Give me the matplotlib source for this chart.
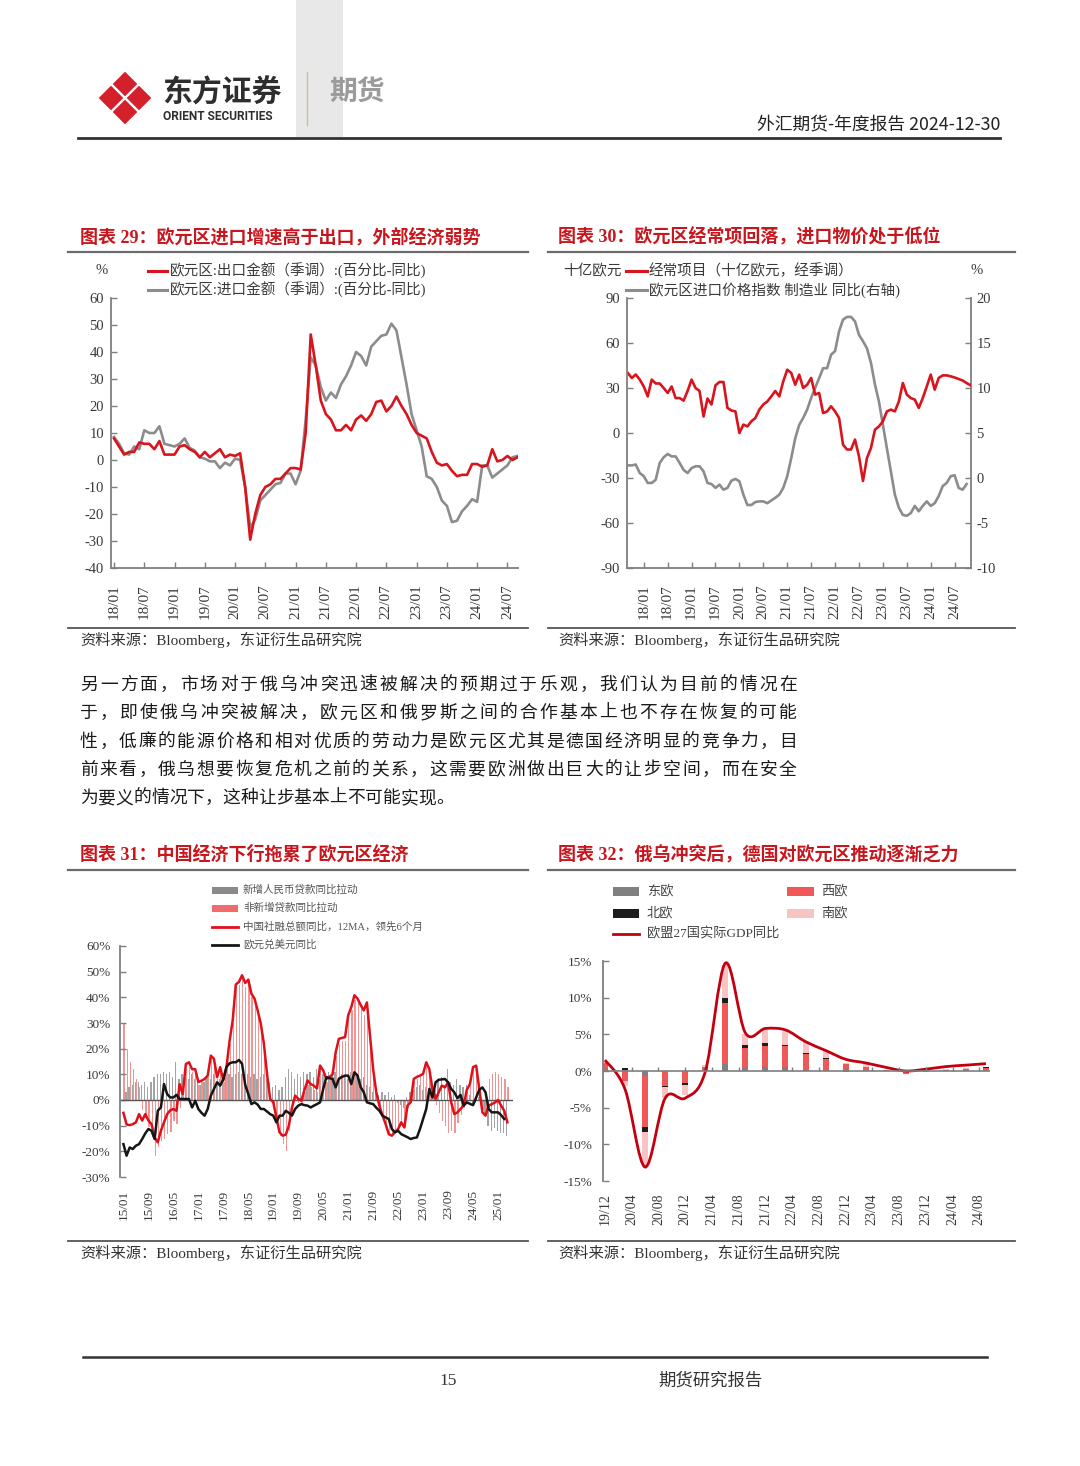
import numpy as np
import matplotlib
matplotlib.use('agg')
import matplotlib.pyplot as plt
from matplotlib.lines import Line2D
from matplotlib.patches import Polygon, Rectangle, PathPatch
from matplotlib.path import Path

W, H = 1080, 1466
SERIF = ['Liberation Serif', 'Noto Sans CJK SC']
SANS = ['Noto Sans CJK SC', 'DejaVu Sans']
plt.rcParams['font.family'] = SERIF
plt.rcParams['axes.unicode_minus'] = False

RED = '#d9141c'
GREY = '#8c8c8c'
AXC = '#7f7f7f'
TXT = '#3a3a3a'
TITLE_RED = '#c8161e'

# ---------------- chart 29: euro area exports / imports yoy, monthly 2018/01 - 2024/09
xt29 = ['18/01', '18/07', '19/01', '19/07', '20/01', '20/07', '21/01', '21/07',
        '22/01', '22/07', '23/01', '23/07', '24/01', '24/07']
exp29 = [8, 5, 2, 3, 3, 6.5, 6, 6, 4, 7, 2, 2, 2, 5, 5.5, 4, 3, 1, 3, 1,
         2.5, 4, 1, 2, 1.5, 2.5, -10, -29.5, -20, -13, -10, -9, -7, -7, -5, -3, -3, -3.5, 10, 46.5,
         35, 22, 17, 15, 11, 11, 13, 11, 15, 16.5, 14.5, 17, 21.5, 22, 18, 20, 23.5, 20, 17, 13,
         10, 9, 8, 3, -1, -2, -1.5, -4, -6, -5.5, -5.5, -1.5, -1.5, -2.5, -2, 4, -0.5, 0, 1.5, 0,
         1]
imp29 = [8.5, 6, 2.5, 2, 5, 4, 11, 10, 10, 12.5, 6, 5.5, 5, 6, 8, 4.5, 3.5, 1, 0.5, -0.5,
         -0.5, -3, -1, -2, 0.5, 0, -10, -25, -22, -15, -13, -11, -9, -8.5, -5, -5, -9, -4, 15, 38,
         35, 27, 22, 25, 23, 28, 31, 35, 40, 38.5, 35, 42, 44, 46, 46.5, 50.5, 48, 38, 28, 17,
         11, 5, -6, -7, -10, -15, -17, -23, -22.5, -19, -17, -14.5, -15.5, -2, -2, -6.5, -5, -3.5, -2, 1,
         1.5]

# ---------------- chart 30: current account (left) and import price index yoy (right), 2017/09 - 2024/11
xt30 = xt29
cur30 = [40, 36.7, 39, 35.6, 31, 24.4, 35.6, 33, 33, 30,
         26.7, 31, 23.3, 23.3, 21.6, 28, 35.6, 30, 28, 11,
         23, 19, 31.8, 34, 34, 16.7, 15, 14.4, 0, 5.6,
         4.4, 7.8, 10, 15.6, 19, 21, 24.4, 28, 24.4, 34.4,
         42.2, 40, 32.2, 38.9, 30, 32.2, 36.7, 25.6, 26.7, 13.3,
         14.4, 17.8, 14.4, 10, -7.8, -11, -11, -4.4, -15.6, -32,
         -16.7, -10, 2.2, 4.4, 7.8, 14.4, 15.6, 14.4, 21, 33.3,
         25.6, 23.3, 22.2, 16.7, 23.3, 31, 38.9, 28.9, 36.7, 38.4,
         38.4, 37.8, 37, 36, 35, 33.3, 31.8]
ipi30 = [1.4, 1.4, 1.5, 0.55, 0.2, -0.55, -0.55, -0.2, 1.67, 2.3,
         2.67, 2.4, 2.4, 1.67, 0.9, 0.55, 1.1, 1.3, 1.3, 0.74,
         -0.55, -0.67, -1.1, -0.74, -1.3, -1.1, -0.3, -0.1, -0.37, -1.85,
         -3.0, -3.0, -2.67, -2.6, -2.6, -2.8, -2.5, -2.2, -1.85, -1.1,
         0.2, 2.2, 4.4, 5.9, 6.67, 7.6, 8.9, 10, 11.1, 12.2,
         12.2, 13.7, 14.1, 16.3, 17.6, 17.9, 17.9, 17.4, 15.9, 15.2,
         14.4, 12.8, 10.4, 8.5, 5.9, 3.3, 0.74, -1.85, -3.3, -4.1,
         -4.2, -3.9, -3.1, -3.7, -3.1, -2.6, -3.1, -2.8, -2.0, -0.9,
         -0.55, 0.2, 0.3, -1.1, -1.3, -0.67]

# ---------------- chart 31: China TSF vs EURUSD, monthly 2015/01 -
xt31 = ['15/01', '15/09', '16/05', '17/01', '17/09', '18/05', '19/01', '19/09',
        '20/05', '21/01', '21/09', '22/05', '23/01', '23/09', '24/05', '25/01']
sf31 = [-5.0, -9.5, -9.8, -9.4, -8.7, -5.5, -8.0, -5.5, -8.0, -9.4,
        -14.6, -16.5, -12.0, -8.7, -5.5, -4.0, -3.5, -4.2, 6.2, 2.3,
        14.0, 14.7, 12.0, 12.0, 7.0, 7.5, 8.2, 9.5, 17.3, 16.0,
        8.9, 12.8, 7.6, 12.8, 23.0, 31.0, 45.0, 46.0, 48.6, 45.6,
        46.9, 41.4, 39.5, 34.9, 29.7, 21.9, 10.2, 0.4, -0.9, -6.8,
        -12.6, -13.9, -13.5, -10.0, -2.9, 1.7, 0.5, -0.3, 4.0, 7.6,
        6.2, 5.6, 4.5, 13.4, 11.5, 8.2, 9.0, 10.0, 18.6, 23.8,
        24.2, 24.5, 33.0, 36.2, 40.8, 39.5, 37.0, 34.9, 38.0, 25.0,
        12.0, 3.0, -2.2, -6.0, -9.4, -13.3, -13.9, -12.5, -11.3, -8.7,
        -10.7, -2.2, -0.9, 8.2, 9.0, 9.5, 10.2, 14.7, 12.0, 4.3,
        0.4, 3.0, 5.6, 4.9, 6.9, -0.9, -5.5, -4.8, -3.5, -2.2,
        4.0, 6.2, 12.8, 13.4, 4.3, -4.8, -6.1, -2.2, -1.6, -1.0,
        0.0, -2.2, -4.2, -8.7]
eur31 = [-17.2, -21.7, -18.5, -19.1, -17.8, -17.2, -15.2, -13.0, -11.3, -12.0,
         -15.2, -4.2, -2.9, 6.2, 2.3, 1.0, 1.0, 2.0, 0.4, 0.4,
         0.4, 0.4, -2.9, -0.3, -3.5, -5.0, -6.1, -3.5, 1.7, 4.3,
         6.9, 5.6, 8.2, 12.8, 14.3, 14.7, 14.7, 15.6, 14.1, 6.0,
         2.3, -1.6, -0.9, -1.8, -3.5, -3.5, -4.5, -5.5, -6.1, -8.7,
         -6.1, -6.1, -4.2, -5.0, -6.1, -3.5, -2.2, -1.6, -2.0, -2.2,
         -2.9, -2.2, -1.6, -0.9, 4.3, 8.9, 8.5, 8.2, 4.9, 8.2,
         9.0, 9.5, 9.5, 6.2, 10.8, 9.5, 5.0, 3.0, -0.9, -1.3,
         -1.6, -3.0, -4.2, -6.1, -6.8, -7.4, -11.3, -12.6, -12.0, -13.3,
         -13.9, -14.5, -15.2, -14.8, -14.6, -11.3, -7.4, -3.5, 4.3, 1.0,
         6.9, 7.9, 8.0, 8.2, 6.9, 4.3, 3.0, 0.7, 2.0, -2.2,
         -0.9, -1.5, -2.0, 1.0, 4.0, 4.9, 3.0, -3.5, -4.8, -4.8,
         -4.8, -5.9, -7.4]
loan31 = [0, 3, 5, 6, 7, 7, 6, 7, 5, 7,
          9, 10, 10, 11, 10, 11, 9, 15, 8, 10,
          9, 8, 10, 8, 8, 6, 7, 9, 8, 10,
          7, 8, 9, 9, 10, 9, 10, 11, 10, 9,
          10, 9, 10, 8, 9, 10, 8, 7, 5, 6,
          4, 5, 9, 12, 11, 8, 10, 9, 11, 10,
          11, 9, 12, 8, 10, 9, 11, 10, 11, 9,
          10, 9, 8, 11, 9, 10, 8, 9, 6, 5,
          3, 4, 2, 3, 2, 3, 1, 2, -1, -2,
          -3, 1, 3, 4, 5, 6, 4, 5, 3, 6,
          4, 8, 9, 6, 12, 7, 6, 8, 6, 5,
          6, 2, -2, -1, 1, -4, -5, -10, -12, -11,
          -12, -13, -13, -14]
other31 = [29.7, 20, 15, 12, 8, 5, -4, -7, -10.7, -14.6,
           -22, -18.5, -15.9, -15.2, -13.3, -12.6, -8, -9.4, -3, 5,
           12, 13, 11, 10, 6, 7, 8, 9, 16, 15,
           8, 12, 7, 12, 22, 30, 44, 45, 47, 44,
           45, 40, 38, 33, 28, 20, 9, 1, -3, -8,
           -14, -17, -20, -12, -5, 1, -1, -2, 3, 6,
           5, 4, 3, 12, 10, 7, 8, 9, 17, 22,
           23, 23, 32, 35, 39, 38, 36, 33, 37, 24,
           11, 2, -3, -6, -9, -13, -14, -12, -11, -9,
           -10, -3, -1, 7, 8, 9, 10, 13, 11, 3,
           -2, -5, -8, -10, -13, -12, -13, -9, -6, -3,
           3, 6, 12, 13, 4, -4, -6, 8, 10, 11,
           10, 9, 8, 5]

# ---------------- chart 32: EU27 real GDP yoy and regional contributions, quarterly 2019Q4 - 2024Q3
xt32 = ['19/12', '20/04', '20/08', '20/12', '21/04', '21/08', '21/12', '22/04',
        '22/08', '22/12', '23/04', '23/08', '23/12', '24/04', '24/08']
east32 = [0.3, 0.1, -0.7, -0.1, -0.1, 0.3, 1.0, 0.4, 0.6, 0.6, 0.3, 0.15, -0.1, 0.1, 0.05, -0.1, -0.05, 0.05, 0.1, 0.1]
west32 = [0.8, -1.3, -7.0, -1.9, -1.6, 0.25, 8.3, 2.8, 2.8, 2.8, 2.0, 1.55, 1.0, 0.5, 0.05, -0.25, -0.15, 0.15, 0.2, 0.35]
north32 = [0.05, 0.25, -0.6, -0.15, -0.15, 0.05, 0.7, 0.35, 0.4, 0.2, 0.1, 0.05, -0.05, 0.0, 0.0, -0.05, 0.0, 0.0, 0.0, 0.05]
south32 = [0.2, -0.7, -4.7, -1.5, -1.4, 0.2, 4.5, 1.5, 1.8, 1.9, 1.6, 1.1, 0.15, 0.3, 0.05, 0.0, 0.1, 0.1, 0.05, 0.1]
gdp32 = [1.5, -2.5, -13.1, -3.7, -3.7, -0.1, 14.7, 5.2, 5.8, 5.6, 4.0, 2.8, 1.6, 1.1, 0.5, 0.0, 0.25, 0.6, 0.8, 1.0]

para = ['另一方面，市场对于俄乌冲突迅速被解决的预期过于乐观，我们认为目前的情况在',
        '于，即使俄乌冲突被解决，欧元区和俄罗斯之间的合作基本上也不存在恢复的可能',
        '性，低廉的能源价格和相对优质的劳动力是欧元区尤其是德国经济明显的竞争力，目',
        '前来看，俄乌想要恢复危机之前的关系，这需要欧洲做出巨大的让步空间，而在安全',
        '为要义的情况下，这种让步基本上不可能实现。']

fig = plt.figure(figsize=(W / 100, H / 100), dpi=100)


def box(x0, y0, x1, y1):
    return [x0 / W, 1 - y1 / H, (x1 - x0) / W, (y1 - y0) / H]


def T(x, y, s, **kw):
    kw.setdefault('va', 'center')
    fig.text(x / W, 1 - y / H, s, **kw)


def hline(x0, x1, y, **kw):
    fig.add_artist(Line2D([x0 / W, x1 / W], [1 - y / H, 1 - y / H], **kw))


def vline(x, y0, y1, **kw):
    fig.add_artist(Line2D([x / W, x / W], [1 - y0 / H, 1 - y1 / H], **kw))


def rect(x0, y0, x1, y1, c):
    fig.add_artist(Rectangle((x0 / W, 1 - y1 / H), (x1 - x0) / W, (y1 - y0) / H,
                             transform=fig.transFigure, color=c, lw=0))


def style(ax, spines, size=10.5):
    for s in ax.spines:
        ax.spines[s].set_visible(s in spines)
        ax.spines[s].set_color(AXC)
        ax.spines[s].set_linewidth(1.3)
    ax.tick_params(direction='in', length=4, width=1, color=AXC, labelcolor=TXT, labelsize=size)
    ax.patch.set_visible(False)


# ---------------- header
rect(296, 0, 343, 137, '#e8e8e8')
for cx, cy in [(125, 84), (125, 112), (111, 98), (139, 98)]:
    r = 12.3
    pts = [((cx) / W, 1 - (cy - r) / H), ((cx + r) / W, 1 - cy / H),
           (cx / W, 1 - (cy + r) / H), ((cx - r) / W, 1 - cy / H)]
    fig.add_artist(Polygon(pts, closed=True, transform=fig.transFigure, color='#d4202a', lw=0))
T(162, 93, '东方证券', family=SANS, fontsize=21.5, weight='bold', color='#2e2e2e')
T(163, 117, 'ORIENT SECURITIES', family=['Roboto', 'DejaVu Sans'], fontsize=8.6, weight='bold', color='#2e2e2e')
vline(307, 72, 125, color='#cdbf9f', lw=1)
T(329, 93, '期货', family=SANS, fontsize=20, weight='bold', color='#9b9b9b')
T(1000, 124, '外汇期货-年度报告 2024-12-30', family=SANS, fontsize=12.8, color='#222222', ha='right')
hline(78, 1000, 138, color='#333333', lw=2)

# ---------------- titles and source lines
for x0, x1, xt, y, title in [
        (68, 528, 80, 237, '图表 29：欧元区进口增速高于出口，外部经济弱势'),
        (548, 1015, 558, 237, '图表 30：欧元区经常项回落，进口物价处于低位'),
        (68, 528, 80, 855, '图表 31：中国经济下行拖累了欧元区经济'),
        (548, 1015, 558, 855, '图表 32：俄乌冲突后，德国对欧元区推动逐渐乏力')]:
    T(xt, y, title, fontsize=13, weight='bold', color=TITLE_RED)
    hline(x0, x1, y + 15, color='#6a6a6a', lw=1.6)
for x0, x1, xt, y in [(68, 528, 80, 628), (548, 1015, 558, 628),
                      (68, 528, 80, 1241), (548, 1015, 558, 1241)]:
    hline(x0, x1, y, color='#555555', lw=1.3)
    T(xt, y + 12, '资料来源：Bloomberg，东证衍生品研究院', fontsize=11, color='#333333')

# ---------------- chart 29
ax1 = fig.add_axes(box(111, 298, 518, 568))
m29 = np.arange(len(exp29))
ax1.plot(m29, imp29, color=GREY, lw=1.9)
ax1.plot(m29, exp29, color=RED, lw=1.9)
ax1.set_xlim(-0.6, 80.1)
ax1.set_ylim(-40, 60)
ax1.set_yticks(range(-40, 61, 10))
ax1.set_xticks(range(0, 79, 6))
ax1.set_xticklabels(xt29, rotation=90)
style(ax1, ('left', 'bottom'))
ax1.tick_params(axis='x', pad=12, labelsize=11)
ax1.tick_params(axis='y', pad=5)
T(102, 271, '%', fontsize=10.5, color=TXT, ha='center')
hline(148, 167, 271, color=RED, lw=2.2)
T(170, 271, '欧元区:出口金额（季调）:(百分比-同比)', fontsize=10.5, color=TXT)
hline(148, 167, 290, color=GREY, lw=2.2)
T(170, 290, '欧元区:进口金额（季调）:(百分比-同比)', fontsize=10.5, color=TXT)

# ---------------- chart 30
ax2 = fig.add_axes(box(627, 298, 971, 568))
ax2r = ax2.twinx()
m30 = np.arange(-4, -4 + len(cur30))
m30r = np.arange(-4, -4 + len(ipi30))
ax2r.plot(m30r, ipi30, color=GREY, lw=1.9)
ax2.plot(m30, cur30, color=RED, lw=1.9)
ax2.set_zorder(ax2r.get_zorder() + 1)
ax2.set_xlim(-4.2, 82.1)
ax2.set_ylim(-90, 90)
ax2.set_yticks(range(-90, 91, 30))
ax2r.set_ylim(-10, 20)
ax2r.set_yticks(range(-10, 21, 5))
ax2.set_xticks(range(0, 79, 6))
ax2.set_xticklabels(xt30, rotation=90)
style(ax2, ('left', 'bottom'))
style(ax2r, ('right',))
ax2.tick_params(axis='x', pad=12, labelsize=11)
ax2.tick_params(axis='y', pad=5)
ax2r.tick_params(axis='y', pad=4)
T(563, 271, '十亿欧元', fontsize=10.5, color=TXT)
hline(626, 647, 271, color=RED, lw=2.2)
T(649, 271, '经常项目（十亿欧元，经季调）', fontsize=10.5, color=TXT)
hline(626, 647, 290, color=GREY, lw=2.2)
T(649, 290, '欧元区进口价格指数 制造业 同比(右轴)', fontsize=10.5, color=TXT)
T(977, 271, '%', fontsize=10.5, color=TXT, ha='center')

# ---------------- chart 31
ax3 = fig.add_axes(box(120, 946, 513, 1177))
m31 = np.arange(len(sf31))
ax3.bar(np.arange(len(loan31)) - 0.2, loan31, width=0.4, color='#a3a3a3', lw=0)
ax3.bar(np.arange(len(other31)) + 0.2, other31, width=0.4, color='#f39494', lw=0)
ax3.axhline(0, color='#555555', lw=1)
ax3.plot(m31, sf31, color='#e0101a', lw=1.8)
ax3.plot(np.arange(len(eur31)), eur31, color='#161616', lw=1.8)
ax3.set_xlim(-1.1, 124.8)
ax3.set_ylim(-30, 60)
ax3.set_yticks(range(-30, 61, 10))
ax3.set_yticklabels(['%d%%' % v for v in range(-30, 61, 10)])
ax3.set_xticks(range(0, 121, 8))
ax3.set_xticklabels(xt31, rotation=90)
style(ax3, ('left',), size=9.5)
ax3.tick_params(axis='x', length=0, pad=9)
ax3.tick_params(axis='y', pad=7)
rect(212, 887, 238, 894, '#8a8a8a')
T(243, 890, '新增人民币贷款同比拉动', fontsize=7.6, color='#555555')
rect(212, 905, 238, 912, '#f36a6a')
T(243, 908, '非新增贷款同比拉动', fontsize=7.6, color='#555555')
hline(212, 238, 927, color='#e0101a', lw=2)
T(243, 927, '中国社融总额同比，12MA，领先6个月', fontsize=7.6, color='#555555')
hline(212, 238, 945, color='#161616', lw=2)
T(243, 945, '欧元兑美元同比', fontsize=7.6, color='#555555')

# ---------------- chart 32
ax4 = fig.add_axes(box(603, 961, 990, 1181))
q = np.arange(len(gdp32)) * 3
pos = np.zeros(len(q))
neg = np.zeros(len(q))
for vals, col in [(east32, '#808080'), (west32, '#f05858'), (north32, '#1c1c1c'), (south32, '#f8c3c3')]:
    v = np.array(vals)
    b = np.where(v >= 0, pos, neg)
    ax4.bar(q, v, bottom=b, width=0.9, color=col, lw=0)
    pos = pos + np.where(v >= 0, v, 0)
    neg = neg + np.where(v < 0, v, 0)
ax4.axhline(0, color=AXC, lw=1.2)
ax4.vlines(range(0, 57, 4), 0, 0.6, color=AXC, lw=1)
pts = np.column_stack([q, gdp32]).astype(float)
verts = [pts[0]]
codes = [Path.MOVETO]
for i in range(len(pts) - 1):
    p0 = pts[max(i - 1, 0)]
    p1 = pts[i]
    p2 = pts[i + 1]
    p3 = pts[min(i + 2, len(pts) - 1)]
    verts += [p1 + (p2 - p0) / 6, p2 - (p3 - p1) / 6, p2]
    codes += [Path.CURVE4] * 3
ax4.add_patch(PathPatch(Path(verts, codes), fill=False, edgecolor='#c2000f', lw=2))
ax4.set_xlim(-0.3, 57.6)
ax4.set_ylim(-15, 15)
ax4.set_yticks(range(-15, 16, 5))
ax4.set_yticklabels(['%d%%' % v for v in range(-15, 16, 5)])
ax4.set_xticks(range(0, 57, 4))
ax4.set_xticklabels(xt32, rotation=90)
style(ax4, ('left',), size=9.5)
ax4.tick_params(axis='x', length=0, pad=9, labelsize=10)
ax4.tick_params(axis='y', pad=8)
rect(613, 887, 639, 896, '#808080')
T(647, 891, '东欧', fontsize=9.5, color='#444444')
rect(613, 909, 639, 918, '#1c1c1c')
T(647, 913, '北欧', fontsize=9.5, color='#444444')
rect(787, 887, 814, 896, '#f05858')
T(821, 891, '西欧', fontsize=9.5, color='#444444')
rect(787, 909, 814, 918, '#f8c3c3')
T(821, 913, '南欧', fontsize=9.5, color='#444444')
hline(613, 639, 934, color='#c2000f', lw=2)
T(647, 934, '欧盟27国实际GDP同比', fontsize=9.5, color='#444444')

# ---------------- body text, justified char by char
for k, line in enumerate(para):
    y = 685 + k * 28.3
    n = len(line)
    step = (797 - 80 - 18) / (n - 1) if k < len(para) - 1 else 17.8
    for i, ch in enumerate(line):
        T(80 + i * step, y, ch, family=SANS, fontsize=12.8, color='#1a1a1a')

# ---------------- footer
hline(83, 987, 1357, color='#333333', lw=1.8)
T(448, 1381, '15', fontsize=12.5, color='#333333', ha='center')
T(710, 1381, '期货研究报告', family=SANS, fontsize=12.5, color='#333333', ha='center')

fig.savefig('out.png', dpi=100)
